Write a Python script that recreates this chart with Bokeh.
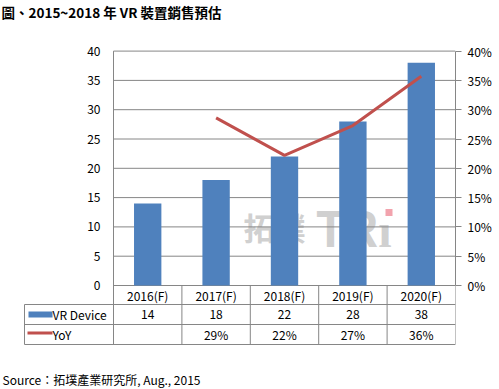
from bokeh.plotting import figure
from bokeh.models import Range1d, LinearAxis, FixedTicker, NumeralTickFormatter
from bokeh.core.properties import value
from bokeh.embed import file_html
from bokeh.resources import INLINE

# ---------------- data ----------------
title_text = "圖、2015~2018 年 VR 裝置銷售預估"
source_text = "Source：拓墣產業研究所, Aug., 2015"
watermark_cjk = "拓墣"
watermark_latin = "TRı"
categories = ["2016(F)", "2017(F)", "2018(F)", "2019(F)", "2020(F)"]
vr_device = [14, 18, 22, 28, 38]
yoy_categories = ["2017(F)", "2018(F)", "2019(F)", "2020(F)"]
yoy = [0.286, 0.222, 0.273, 0.357]
left_ticks = [0, 5, 10, 15, 20, 25, 30, 35, 40]
right_ticks = [0, 0.05, 0.10, 0.15, 0.20, 0.25, 0.30, 0.35, 0.40]
series_names = ["VR Device", "YoY"]

# ---------------- styles / layout ----------------
BAR_COLOR = "#4F81BD"
LINE_COLOR = "#C0504D"
GRID_COLOR = "#868686"
FONT = "Noto Sans CJK TC"

PX_X = 68.4   # px per category
PX_Y = 5.86   # px per value unit
X0_PX = 113   # left edge of plot area (px)
Y0_PX = 285   # baseline (px)
FRAME_L, FRAME_T, FRAME_W, FRAME_H = 0, 0, 455, 389


def fx(px):
    return (px - X0_PX) / PX_X - 0.5


def fy(py):
    return (Y0_PX - py) / PX_Y


idx = list(range(len(categories)))
yoy_x = [categories.index(c) for c in yoy_categories]
bounds_x = [i - 0.5 for i in range(len(categories) + 1)]
x_lo, x_hi = bounds_x[0], bounds_x[-1]

p = figure(frame_width=FRAME_W, frame_height=FRAME_H,
           x_range=Range1d(fx(FRAME_L), fx(FRAME_L + FRAME_W)),
           y_range=Range1d(fy(FRAME_T + FRAME_H), fy(FRAME_T)),
           x_axis_type=None, y_axis_type=None,
           output_backend="svg", toolbar_location=None,
           min_border=0, min_border_right=44, outline_line_color=None,
           background_fill_color="white", border_fill_color="white")
p.extra_y_ranges = {"pct": Range1d(fy(FRAME_T + FRAME_H) / 100.0, fy(FRAME_T) / 100.0)}

txt = dict(text_font=value(FONT), text_font_size=value("12px"), text_color="#000000")

# watermark
p.text(x=[fx(243)], y=[fy(226)], text=[watermark_cjk], text_font=value(FONT),
       text_font_size=value("31px"), text_font_style="bold", text_color="#d0d0d0",
       text_align="left", text_baseline="middle")
p.text(x=[fx(315)], y=[fy(225)], text=[watermark_latin], text_font=value(FONT),
       text_font_size=value("48px"), text_font_style="bold", text_color="#d0d0d0",
       text_align="left", text_baseline="middle")
p.scatter(x=[fx(388.5)], y=[fy(212)], marker="square", size=7,
          fill_color="#f2a3ad", line_color=None)

# gridlines (incl. baseline)
p.segment(x0=[x_lo] * len(left_ticks), x1=[x_hi] * len(left_ticks),
          y0=left_ticks, y1=left_ticks, line_color=GRID_COLOR, line_width=1)

# left axis line + table column lines
p.segment(x0=[x_lo], x1=[x_lo], y0=[fy(344)], y1=[left_ticks[-1]],
          line_color=GRID_COLOR, line_width=1)
p.segment(x0=bounds_x[1:], x1=bounds_x[1:], y0=[fy(344)] * (len(bounds_x) - 1),
          y1=[0] * (len(bounds_x) - 1), line_color=GRID_COLOR, line_width=1)
# table rows
row_lines = [fy(304), fy(324), fy(344)]
p.segment(x0=[fx(24)] * 3, x1=[x_hi] * 3, y0=row_lines, y1=row_lines,
          line_color=GRID_COLOR, line_width=1)
p.segment(x0=[fx(24)], x1=[fx(24)], y0=[fy(344)], y1=[fy(304)],
          line_color=GRID_COLOR, line_width=1)

# bars and line
p.vbar(x=idx, top=vr_device, bottom=0, width=0.4, fill_color=BAR_COLOR, line_color=None)
p.line(x=yoy_x, y=yoy, y_range_name="pct", line_color=LINE_COLOR, line_width=3)

# left tick labels
p.text(x=[x_lo] * len(left_ticks), y=left_ticks, text=[str(t) for t in left_ticks],
       x_offset=-13, text_align="right", text_baseline="middle", **txt)

# right axis
ra = LinearAxis(y_range_name="pct", ticker=FixedTicker(ticks=right_ticks),
                formatter=NumeralTickFormatter(format="0%"), bounds=(0, 0.4),
                axis_line_color=GRID_COLOR, major_tick_line_color=GRID_COLOR,
                major_tick_out=6, major_tick_in=0, minor_tick_line_color=None,
                major_label_standoff=6, major_label_text_font=FONT,
                major_label_text_font_size="12px", major_label_text_color="#000000")
p.add_layout(ra, "right")

# data table
p.text(x=idx, y=[fy(295)] * len(idx), text=categories,
       text_align="center", text_baseline="middle", **txt)
p.text(x=idx, y=[fy(314)] * len(idx), text=[str(v) for v in vr_device],
       text_align="center", text_baseline="middle", **txt)
p.text(x=yoy_x, y=[fy(334)] * len(yoy_x), text=[f"{v:.0%}" for v in yoy],
       text_align="center", text_baseline="middle", **txt)

# legend keys in table
p.quad(left=[fx(28)], right=[fx(52)], top=[fy(311)], bottom=[fy(317)],
       fill_color=BAR_COLOR, line_color=None)
p.line(x=[fx(27), fx(52)], y=[fy(332.5), fy(332.5)], line_color=LINE_COLOR, line_width=3)
p.text(x=[fx(52), fx(52)], y=[fy(314), fy(334)], text=series_names,
       text_align="left", text_baseline="middle", **txt)

# title and source
p.text(x=[fx(1)], y=[fy(11)], text=[title_text], text_font=value(FONT),
       text_font_size=value("13.5px"), text_font_style="bold", text_color="#000000",
       text_align="left", text_baseline="middle")
p.text(x=[fx(2)], y=[fy(379)], text=[source_text],
       text_align="left", text_baseline="middle", **txt)

open("out.html", "w").write(file_html(p, INLINE))
